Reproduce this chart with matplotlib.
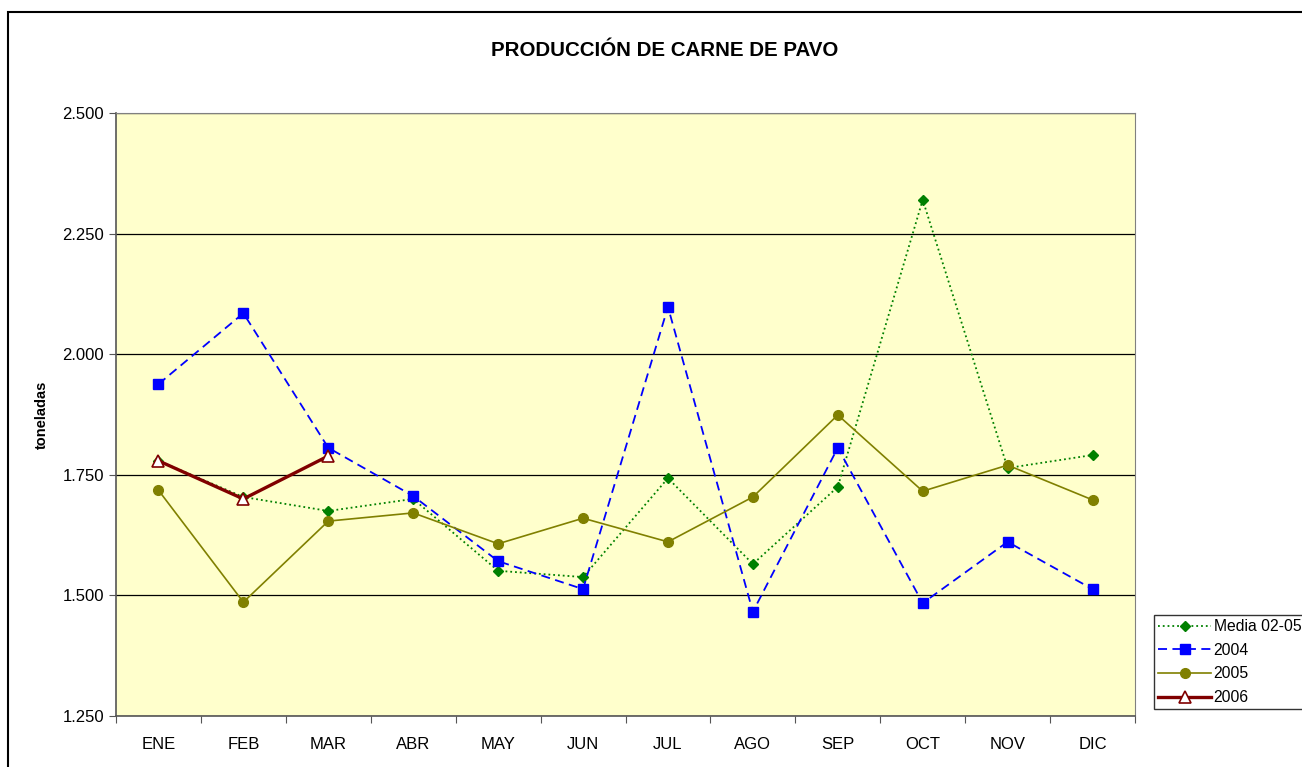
import numpy as np
import matplotlib.pyplot as plt
from matplotlib.patches import Rectangle
from matplotlib.ticker import FuncFormatter

plt.rcParams['font.family'] = ['Liberation Sans', 'DejaVu Sans']

meses = ['ENE', 'FEB', 'MAR', 'ABR', 'MAY', 'JUN', 'JUL', 'AGO', 'SEP', 'OCT', 'NOV', 'DIC']
media_02_05 = [1.779, 1.704, 1.675, 1.700, 1.551, 1.538, 1.743, 1.565, 1.725, 2.320, 1.764, 1.791]
y2004 = [1.938, 2.085, 1.806, 1.706, 1.571, 1.513, 2.098, 1.466, 1.806, 1.484, 1.611, 1.513]
y2005 = [1.718, 1.486, 1.654, 1.671, 1.607, 1.660, 1.611, 1.704, 1.874, 1.716, 1.770, 1.698]
y2006 = [1.779, 1.700, 1.789]

fig = plt.figure(figsize=(13.02, 7.67), dpi=100)
ax = fig.add_axes([116/1302, 1-716/767, (1135-116)/1302, (716-113)/767])
ax.set_facecolor('#ffffcc')

# outer chart border
fig.patches.append(Rectangle((8/1302, -0.05), 1.1, 1-12/767+0.05, transform=fig.transFigure,
                             fill=False, edgecolor='black', linewidth=1.5))

x = np.arange(12) + 0.5
ax.plot(x, media_02_05, ls=':', color='#008000', lw=1.3, marker='D', ms=5.5,
        label='Media 02-05', zorder=3)
ax.plot(x, y2004, ls=(0, (5, 3)), color='#0000ff', lw=1.3, marker='s', ms=7,
        label='2004', zorder=3)
ax.plot(x, y2005, ls='-', color='#808000', lw=1.2, marker='o', ms=7,
        label='2005', zorder=3)
ax.plot(x[:3], y2006, ls='-', color='#800000', lw=2.4, marker='^', ms=8.5,
        mfc='white', mec='#800000', mew=1.2, label='2006', zorder=4)

ax.set_xlim(0, 12)
ax.set_ylim(1.25, 2.5)
ax.set_yticks([1.25, 1.5, 1.75, 2.0, 2.25, 2.5])
ax.yaxis.set_major_formatter(FuncFormatter(lambda v, p: f'{v:.3f}'))
ax.grid(axis='y', color='black', lw=0.9)
ax.set_axisbelow(True)

ax.set_xticks(np.arange(13))
ax.set_xticklabels([])
ax.set_xticks(x, minor=True)
ax.set_xticklabels(meses, minor=True)
ax.tick_params(axis='x', which='minor', length=0, pad=15, labelsize=12)
ax.tick_params(axis='x', which='major', length=5, color='#555555')
ax.tick_params(axis='y', length=5, labelsize=12, color='#555555')

for s in ['top', 'right']:
    ax.spines[s].set_color('#808080')
for s in ['left', 'bottom']:
    ax.spines[s].set_color('#555555')
    ax.spines[s].set_linewidth(1.2)

ax.set_ylabel('toneladas', fontsize=10.5, fontweight='bold', labelpad=10)
fig.text(665/1302, 1-50/767, 'PRODUCCIÓN DE CARNE DE PAVO', ha='center', va='center',
         fontsize=14.8, fontweight='bold')

leg = ax.legend(loc='lower left', bbox_to_anchor=(1154/1302, 1-709/767),
                bbox_transform=fig.transFigure, fontsize=11.3, frameon=True,
                fancybox=False, edgecolor='black', borderpad=0.25,
                handlelength=3.4, labelspacing=0.55, handletextpad=0.15,
                borderaxespad=0)
leg.get_frame().set_linewidth(1.0)

fig.savefig('out.png', dpi=100)
